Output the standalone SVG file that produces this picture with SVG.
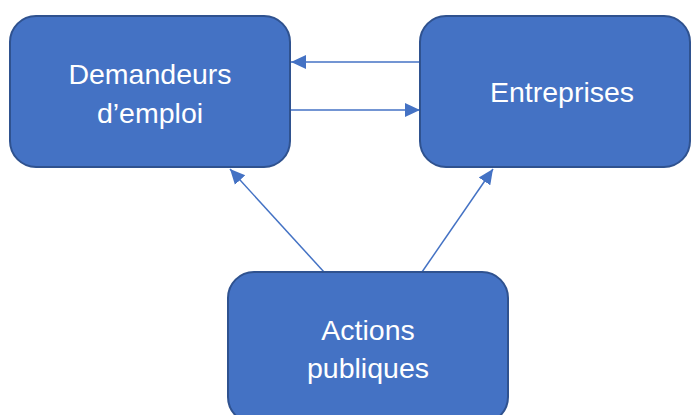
<svg xmlns="http://www.w3.org/2000/svg" width="691" height="415" viewBox="0 0 691 415">
<style>
.box{fill:#4472C4;stroke:#2F528F;stroke-width:2}
.lbl{fill:#fff;font-family:"Liberation Sans",Arial,sans-serif;font-size:28.5px;text-anchor:middle}
.con{stroke:#4472C4;stroke-width:1.5;fill:none}
</style>
<defs>
<marker id="ah" markerUnits="userSpaceOnUse" markerWidth="16" markerHeight="16" refX="15" refY="8" orient="auto">
<path d="M0,1 L15,8 L0,15 Z" fill="#4472C4"/>
</marker>
</defs>
<rect width="691" height="415" fill="#fff"/>
<g id="connectors">
<line class="con" x1="420" y1="62" x2="291" y2="62" marker-end="url(#ah)"/>
<line class="con" x1="291" y1="110" x2="420" y2="110" marker-end="url(#ah)"/>
<line class="con" x1="324" y1="272" x2="230" y2="169" marker-end="url(#ah)"/>
<line class="con" x1="422" y1="272" x2="493" y2="169" marker-end="url(#ah)"/>
</g>
<g id="demandeurs">
<rect class="box" x="10" y="16" width="280" height="151" rx="26"/>
<text class="lbl" x="150" y="84">Demandeurs</text>
<text class="lbl" x="150" y="123">d’emploi</text>
</g>
<g id="entreprises">
<rect class="box" x="420" y="16" width="270" height="151" rx="26"/>
<text class="lbl" x="562" y="102">Entreprises</text>
</g>
<g id="actions">
<rect class="box" x="228" y="272" width="280" height="151" rx="26"/>
<text class="lbl" x="368" y="340">Actions</text>
<text class="lbl" x="368" y="378">publiques</text>
</g>
</svg>
